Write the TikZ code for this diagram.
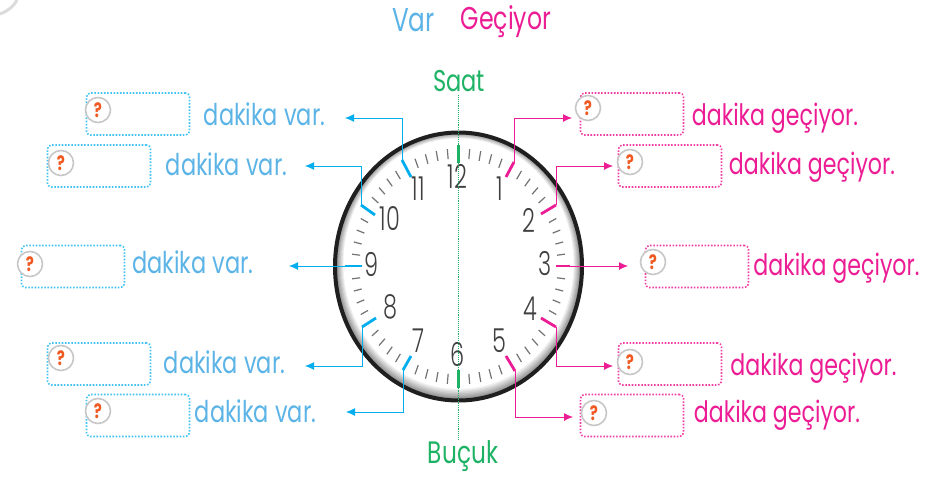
\documentclass[tikz,border=0pt]{standalone}
\usepackage{fontspec}
\setmainfont[FakeStretch=0.75]{Poppins}
\newfontfamily\digitfont[FakeStretch=0.68,UprightFont={* Light}]{Poppins}
\usetikzlibrary{shapes,arrows,arrows.meta}
\definecolor{varblue}{HTML}{5CB4E6}
\definecolor{varline}{HTML}{00AEEF}
\definecolor{gecpink}{HTML}{EC1C94}
\definecolor{ringgreen}{HTML}{1DB264}
\definecolor{qorange}{HTML}{F05A22}
\tikzstyle{varbox} = [rectangle, draw=varline!75, dash pattern=on 1.6pt off 1.6pt, line width=1.6pt, rounded corners=4pt, minimum width=103pt, minimum height=42pt]
\tikzstyle{gecbox} = [rectangle, draw=gecpink!85, dash pattern=on 1.6pt off 1.6pt, line width=1.6pt, rounded corners=4pt, minimum width=103pt, minimum height=42pt]
\tikzstyle{badge} = [circle, fill=white, draw=black!22, line width=1.6pt, minimum size=25pt, inner sep=0pt, text=qorange, font=\fontsize{20}{20}\selectfont\bfseries]
\tikzstyle{varlabel} = [text=varblue, font=\fontsize{30}{30}\selectfont, inner sep=0pt]
\tikzstyle{geclabel} = [text=gecpink, font=\fontsize{29.5}{30}\selectfont, inner sep=0pt]
\tikzstyle{digit} = [text=black!75, font=\digitfont\fontsize{33}{33}\selectfont, inner sep=0pt]
\tikzstyle{head} = [text=ringgreen, font=\fontsize{30}{30}\selectfont, inner sep=0pt]
\tikzstyle{varline} = [draw=varline, line width=0.9pt, -{Latex[length=9pt,width=8pt]}]
\tikzstyle{gecline} = [draw=gecpink, line width=0.9pt, -{Latex[length=9pt,width=8pt]}]
\tikzstyle{vartick} = [draw=varline, line width=2.8pt]
\tikzstyle{gectick} = [draw=gecpink, line width=2.8pt]
\begin{document}
\begin{tikzpicture}[x=1pt, y=-1pt]
  \useasboundingbox (0,0) rectangle (948,477);
  % Clock face
  \draw [black!14, line width=3pt] (17,0) .. controls (14,6) and (8,11) .. (0,14);
  \foreach \s in {0,...,8} {
    \pgfmathsetmacro{\shade}{48-6*\s}
    \fill [black!\shade] (458.5,{266.5-0.35*\s}) ellipse ({123-\s} and {134-1.1*\s});
  }
  \draw [black!88, line width=4pt] (458.5,266.5) ellipse (123.5pt and 134pt);
  % Minute ticks
  \foreach \a in {1,...,59} {
    \pgfmathparse{int(mod(\a,5))}
    \ifnum\pgfmathresult=0\else
      \draw [black!55, line width=1.2pt] ({458.5+99*sin(6*\a)},{266.5-108*cos(6*\a)}) -- ({458.5+107*sin(6*\a)},{266.5-118*cos(6*\a)});
    \fi
  }
  % Place nodes
  \node [head] (saat) at (459,81) {Saat};
  \node [head, font=\fontsize{31}{31}\selectfont] (bucuk) at (463,456) {Buçuk};
  \node [varlabel, font=\fontsize{33}{33}\selectfont] (var) at (413.5,20) {Var};
  \node [geclabel, font=\fontsize{31.5}{32}\selectfont] (gec) at (506,22) {Geçiyor};
  \node [digit] (h12) at (457.5,176) {12};
  \node [digit] (h1) at (500,189) {1};
  \node [digit] (h2) at (529,220) {2};
  \node [digit] (h3) at (545,264) {3};
  \node [digit] (h4) at (530,309) {4};
  \node [digit] (h5) at (499,341) {5};
  \node [digit] (h6) at (458,354) {6};
  \node [digit] (h7) at (418,341) {7};
  \node [digit] (h8) at (390,307) {8};
  \node [digit] (h9) at (372,264) {9};
  \node [digit] (h10) at (390,219) {10};
  \node [digit] (h11) at (418,189) {11};
  \node [varbox] (vbox11) at (138,114) {};
  \node [varbox] (vbox10) at (99,166) {};
  \node [varbox] (vbox9) at (73,266.5) {};
  \node [varbox] (vbox8) at (99,364) {};
  \node [varbox] (vbox7) at (138,415.5) {};
  \node [gecbox] (gbox1) at (632,114) {};
  \node [gecbox] (gbox2) at (670,166) {};
  \node [gecbox] (gbox3) at (697,266.5) {};
  \node [gecbox] (gbox4) at (670,364) {};
  \node [gecbox] (gbox5) at (632,415.5) {};
  \node [badge] (vq11) at (98,110) {?};
  \node [badge] (vq10) at (61,163) {?};
  \node [badge] (vq9) at (30,264) {?};
  \node [badge] (vq8) at (61,358) {?};
  \node [badge] (vq7) at (98,411) {?};
  \node [badge] (gq1) at (588,108) {?};
  \node [badge] (gq2) at (630,162) {?};
  \node [badge] (gq3) at (653,262) {?};
  \node [badge] (gq4) at (630,362) {?};
  \node [badge] (gq5) at (594,413) {?};
  \node [varlabel] (vtext11) at (264.5,114) {dakika var.};
  \node [varlabel] (vtext10) at (226.5,164) {dakika var.};
  \node [varlabel] (vtext9) at (193,262) {dakika var.};
  \node [varlabel] (vtext8) at (224.5,362) {dakika var.};
  \node [varlabel] (vtext7) at (255.5,411) {dakika var.};
  \node [geclabel] (gtext1) at (775,118) {dakika geçiyor.};
  \node [geclabel] (gtext2) at (812,167) {dakika geçiyor.};
  \node [geclabel] (gtext3) at (836.5,268) {dakika geçiyor.};
  \node [geclabel] (gtext4) at (813.5,368) {dakika geçiyor.};
  \node [geclabel] (gtext5) at (777,415) {dakika geçiyor.};
  % Tick ends and arrow ends
  \coordinate (v11a) at (411,177); \coordinate (v11b) at (402,160); \coordinate (v11c) at (345,118);
  \coordinate (v10a) at (375,215); \coordinate (v10b) at (361,205); \coordinate (v10c) at (305,166);
  \coordinate (v9a) at (362,266); \coordinate (v9b) at (345,266); \coordinate (v9c) at (289,266);
  \coordinate (v8a) at (376,318); \coordinate (v8b) at (362,327); \coordinate (v8c) at (305,366);
  \coordinate (v7a) at (411,356); \coordinate (v7b) at (403,370); \coordinate (v7c) at (346,412);
  \coordinate (g1a) at (506,177); \coordinate (g1b) at (514,162); \coordinate (g1c) at (572,118);
  \coordinate (g2a) at (541,214); \coordinate (g2b) at (556,205); \coordinate (g2c) at (613,166);
  \coordinate (g3a) at (556,266); \coordinate (g3b) at (570,266); \coordinate (g3c) at (628,266);
  \coordinate (g4a) at (541,318); \coordinate (g4b) at (556,327); \coordinate (g4c) at (613,366);
  \coordinate (g5a) at (506,356); \coordinate (g5b) at (515,371); \coordinate (g5c) at (573,417);
  \coordinate (top) at (458.5,95); \coordinate (bottom) at (458.5,440);
  % Draw edges
  \draw [ringgreen, densely dotted, line width=0.9pt] (top) -- (bottom);
  \draw [ringgreen, line width=2.4pt] (458.5,145) -- (458.5,163);
  \draw [ringgreen, line width=2.4pt] (458.5,370) -- (458.5,388);
  \path [vartick] (v11a) -- (v11b);
  \path [vartick] (v10a) -- (v10b);
  \path [vartick] (v9a) -- (v9b);
  \path [vartick] (v8a) -- (v8b);
  \path [vartick] (v7a) -- (v7b);
  \path [gectick] (g1a) -- (g1b);
  \path [gectick] (g2a) -- (g2b);
  \path [gectick] (g3a) -- (g3b);
  \path [gectick] (g4a) -- (g4b);
  \path [gectick] (g5a) -- (g5b);
  \path [varline] (v11b) |- (v11c);
  \path [varline] (v10b) |- (v10c);
  \path [varline] (v9b) -- (v9c);
  \path [varline] (v8b) |- (v8c);
  \path [varline] (v7b) |- (v7c);
  \path [gecline] (g1b) |- (g1c);
  \path [gecline] (g2b) |- (g2c);
  \path [gecline] (g3b) -- (g3c);
  \path [gecline] (g4b) |- (g4c);
  \path [gecline] (g5b) |- (g5c);
\end{tikzpicture}
\end{document}
